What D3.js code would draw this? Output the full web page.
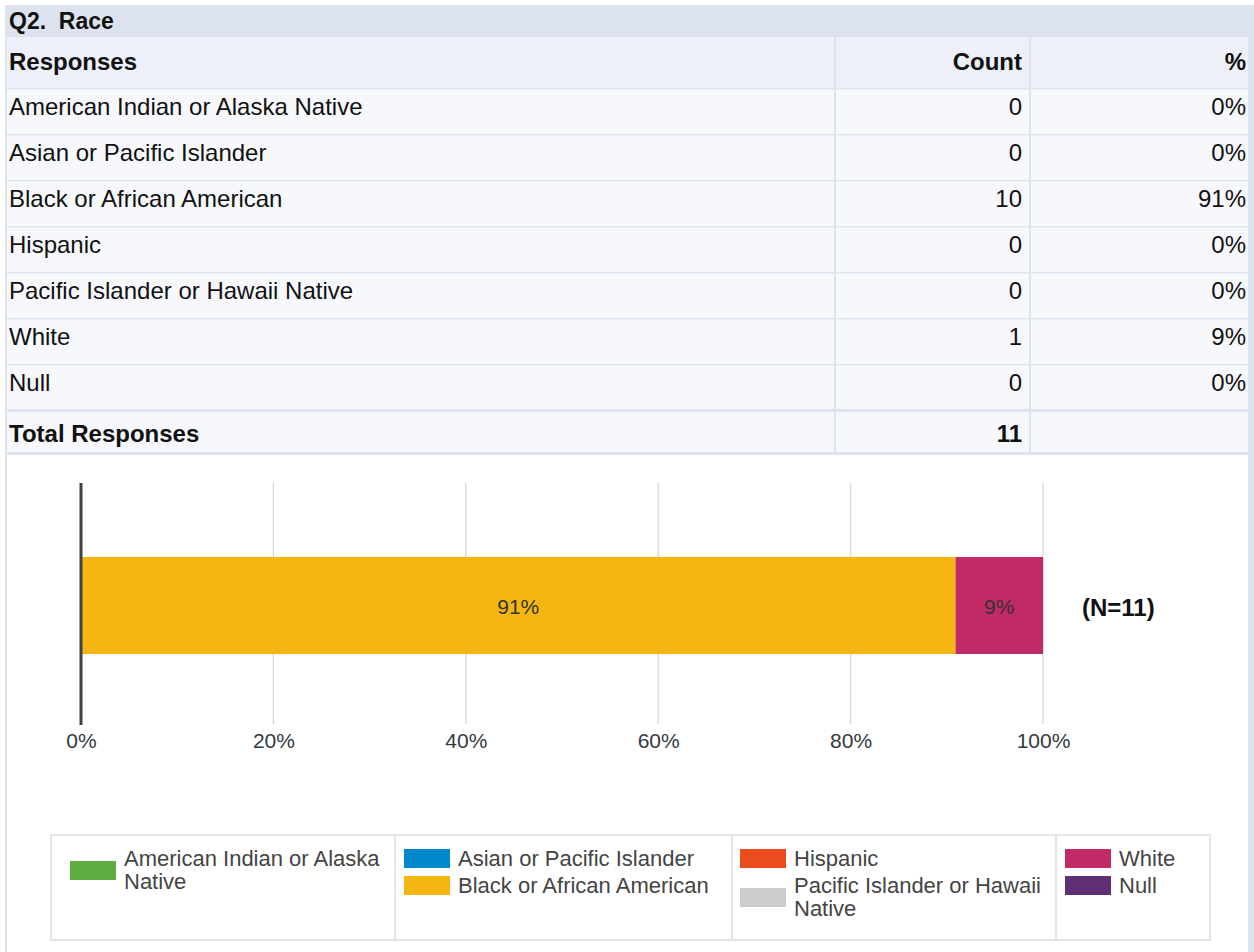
<!DOCTYPE html>
<html lang="en">
<head>
<meta charset="UTF-8"/>
<title>Q2. Race</title>
<script src="https://d3js.org/d3.v7.min.js"></script>
<style>
  body { margin: 0; background: #fff; }
  svg text { font-family: "Liberation Sans", Arial, sans-serif; }
</style>
</head>
<body>
<script>
// data
var responses = ["American Indian or Alaska Native", "Asian or Pacific Islander",
                 "Black or African American", "Hispanic",
                 "Pacific Islander or Hawaii Native", "White", "Null"];
var counts = [0, 0, 10, 0, 0, 1, 0];
var pctLabels = ["0%", "0%", "91%", "0%", "0%", "9%", "0%"];
var totalCount = 11;
var colors = ["#5fad41", "#0088cc", "#f5b612", "#eb4c1e", "#cccccc", "#c12a66", "#612f74"];
var xTicks = [0, 0.2, 0.4, 0.6, 0.8, 1];
// legend: which series go in each box, and how the labels wrap
var legendCols = [[0], [1, 2], [3, 4], [5, 6]];
var legendLines = [["American Indian or Alaska", "Native"], ["Asian or Pacific Islander"],
                   ["Black or African American"], ["Hispanic"],
                   ["Pacific Islander or Hawaii", "Native"], ["White"], ["Null"]];

var W = 1254, H = 952;
var line = "#dde3ef";

var svg = d3.select("body").append("svg")
    .attr("width", W).attr("height", H);

// ---- frame + table ----
svg.append("rect").attr("x", 5).attr("y", 5).attr("width", 2).attr("height", H - 5).attr("fill", line);
svg.append("rect").attr("x", 1248).attr("y", 5).attr("width", 6).attr("height", H - 5).attr("fill", line);
svg.append("rect").attr("x", 5).attr("y", 5).attr("width", 1249).attr("height", 32).attr("fill", "#dce3ef");
svg.append("text").attr("x", 9).attr("y", 29)
    .attr("font-size", 23).attr("font-weight", "bold").attr("fill", "#111")
    .text("Q2.\u00a0 Race");

var rowY = d3.scaleLinear().domain([0, 1]).range([88, 134]);
var colL = 7, colA = 835, colB = 1030, colR = 1248;

// header row
svg.append("rect").attr("x", colL).attr("y", 37).attr("width", colR - colL).attr("height", 51).attr("fill", "#edf0f8");
var head = svg.append("g").attr("font-size", 24).attr("font-weight", "bold").attr("fill", "#111");
head.append("text").attr("x", 9).attr("y", 70).text("Responses");
head.append("text").attr("x", 1022).attr("y", 70).attr("text-anchor", "end").text("Count");
head.append("text").attr("x", 1246).attr("y", 70).attr("text-anchor", "end").text("%");

var rows = svg.selectAll("g.row")
    .data(responses)
    .enter().append("g")
    .attr("class", "row")
    .attr("transform", function(d, i) { return "translate(0," + rowY(i) + ")"; });

rows.append("rect").attr("x", colL).attr("y", 0).attr("width", colR - colL).attr("height", 46).attr("fill", "#f7f8fc");
rows.append("rect").attr("x", colL).attr("y", 0).attr("width", colR - colL).attr("height", 1.5).attr("fill", line);
rows.append("text").attr("x", 9).attr("y", 27).attr("font-size", 24).attr("fill", "#111")
    .text(function(d) { return d; });
rows.append("text").attr("x", 1022).attr("y", 27).attr("font-size", 24).attr("fill", "#111")
    .attr("text-anchor", "end").text(function(d, i) { return counts[i]; });
rows.append("text").attr("x", 1246).attr("y", 27).attr("font-size", 24).attr("fill", "#111")
    .attr("text-anchor", "end").text(function(d, i) { return pctLabels[i]; });

// total row
var totTop = rowY(responses.length);
svg.append("rect").attr("x", colL).attr("y", totTop).attr("width", colR - colL).attr("height", 44).attr("fill", "#f5f7fb");
svg.append("rect").attr("x", colL).attr("y", totTop - 1).attr("width", colR - colL).attr("height", 3).attr("fill", line);
svg.append("rect").attr("x", colL).attr("y", 452).attr("width", colR - colL).attr("height", 3).attr("fill", line);
svg.append("text").attr("x", 9).attr("y", 442).attr("font-size", 24).attr("font-weight", "bold").attr("fill", "#111")
    .text("Total Responses");
svg.append("text").attr("x", 1022).attr("y", 442).attr("font-size", 24).attr("font-weight", "bold").attr("fill", "#111")
    .attr("text-anchor", "end").text(totalCount);

[colA, colB].forEach(function(x) {
    svg.append("rect").attr("x", x - 1).attr("y", 37).attr("width", 2).attr("height", 417).attr("fill", line);
});

// ---- stacked bar ----
var x = d3.scaleLinear().domain([0, 1]).range([81, 1043]);
var gridTop = 483, gridBot = 724;

svg.append("g").selectAll("line")
    .data(xTicks.slice(1))
    .enter().append("line")
    .attr("x1", function(d) { return x(d); }).attr("x2", function(d) { return x(d); })
    .attr("y1", gridTop).attr("y2", gridBot)
    .attr("stroke", "#d6d6d6").attr("stroke-width", 1.3);

var row0 = {};
responses.forEach(function(r, i) { row0[r] = counts[i]; });
var stack = d3.stack().keys(responses).offset(d3.stackOffsetExpand);
var series = stack([row0]);

var barG = svg.append("g");
series.forEach(function(s, i) {
    var seg = s[0];
    if (seg[1] - seg[0] <= 0) return;
    barG.append("rect")
        .attr("x", x(seg[0])).attr("y", 557)
        .attr("width", x(seg[1]) - x(seg[0])).attr("height", 97)
        .attr("fill", colors[i]);
    barG.append("text")
        .attr("x", (x(seg[0]) + x(seg[1])) / 2).attr("y", 614)
        .attr("text-anchor", "middle").attr("font-size", 21).attr("fill", "#333")
        .text(pctLabels[i]);
});

svg.append("line")
    .attr("x1", x(0)).attr("x2", x(0)).attr("y1", gridTop).attr("y2", gridBot + 1)
    .attr("stroke", "#3b4347").attr("stroke-width", 3);

var axis = d3.axisBottom(x).tickValues(xTicks).tickSize(0).tickPadding(0)
    .tickFormat(d3.format(".0%"));
var axG = svg.append("g").attr("transform", "translate(0,730)").call(axis);
axG.select(".domain").remove();
axG.selectAll("text").attr("font-size", 21).attr("fill", "#333a40")
    .attr("dy", null).attr("y", 18)
    .style("font-family", "'Liberation Sans', Arial, sans-serif");

svg.append("text").attr("x", 1082).attr("y", 616)
    .attr("font-size", 24).attr("font-weight", "bold").attr("fill", "#111")
    .text("(N=" + totalCount + ")");

// ---- legend ----
var legTop = 835, legBot = 940;
var colEdges = [51, 395, 732, 1056, 1210];
var swatchOff = [19, 9, 8, 9];
svg.append("rect").attr("x", colEdges[0]).attr("y", legTop)
    .attr("width", colEdges[4] - colEdges[0]).attr("height", legBot - legTop)
    .attr("fill", "#fff").attr("stroke", "#e4e4e4").attr("stroke-width", 2);
colEdges.slice(1, 4).forEach(function(cx) {
    svg.append("line").attr("x1", cx).attr("x2", cx).attr("y1", legTop).attr("y2", legBot)
        .attr("stroke", "#e4e4e4").attr("stroke-width", 2);
});

legendCols.forEach(function(items, c) {
    var sx = colEdges[c] + swatchOff[c];
    var g = svg.append("g");
    var it = g.selectAll("g").data(items).enter().append("g");
    it.append("rect")
        .attr("x", sx)
        .attr("y", function(d, k) { return 866 + 27 * k - 17 + (legendLines[d].length - 1) * 12; })
        .attr("width", 46).attr("height", 19)
        .attr("fill", function(d) { return colors[d]; });
    it.append("text")
        .attr("x", sx + 54)
        .attr("y", function(d, k) { return 866 + 27 * k; })
        .attr("font-size", 22).attr("fill", "#444")
        .selectAll("tspan")
        .data(function(d) { return legendLines[d]; })
        .enter().append("tspan")
        .attr("x", sx + 54)
        .attr("dy", function(d, j) { return j === 0 ? 0 : 23; })
        .text(function(d) { return d; });
});
</script>
</body>
</html>
